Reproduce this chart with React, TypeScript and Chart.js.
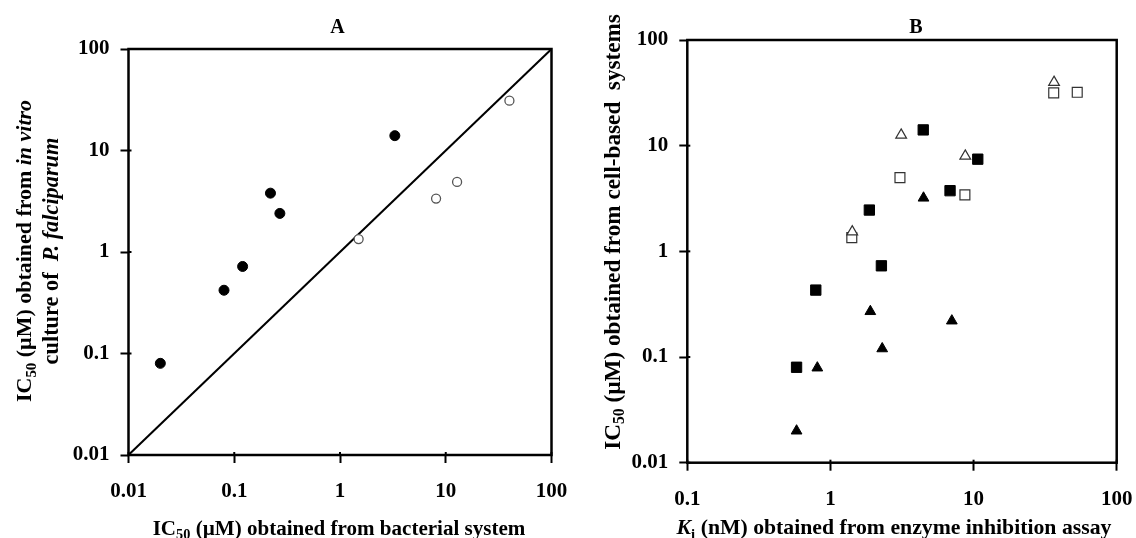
import { useEffect, useRef } from "react";
import { Chart, registerables } from "chart.js";

Chart.register(...registerables);

const FAMILY = '"Liberation Serif", "Times New Roman", Times, serif';

// ---------- Data ----------
const A_X_TICKS = [0.01, 0.1, 1, 10, 100];
const A_Y_TICKS = [0.01, 0.1, 1, 10, 100];
const B_X_TICKS = [0.1, 1, 10, 100];
const B_Y_TICKS = [0.01, 0.1, 1, 10, 100];

// Panel A: IC50 bacterial (x) vs IC50 in vitro P. falciparum (y)
const A_FILLED_X = [0.02, 0.08, 0.12, 0.22, 0.27, 3.3];
const A_FILLED_Y = [0.08, 0.42, 0.72, 3.8, 2.4, 14];
const A_OPEN_X = [1.5, 8.1, 12.8, 40];
const A_OPEN_Y = [1.34, 3.36, 4.9, 31];
const A_DIAG = [0.01, 100];

// Panel B: Ki (x) vs IC50 cell-based (y)
const B_FSQ_X = [0.58, 0.79, 1.87, 2.27, 4.45, 6.85, 10.7];
const B_FSQ_Y = [0.08, 0.43, 2.46, 0.73, 14.1, 3.75, 7.45];
const B_FTRI_X = [0.58, 0.81, 1.9, 2.3, 4.47, 7.05];
const B_FTRI_Y = [0.02, 0.079, 0.27, 0.12, 3.2, 0.22];
const B_OSQ_X = [1.41, 3.06, 8.7, 36.3, 53];
const B_OSQ_Y = [1.35, 4.98, 3.42, 31.6, 32];
const B_OTRI_X = [1.42, 3.12, 8.75, 36.5];
const B_OTRI_Y = [1.53, 12.6, 7.97, 39.8];

const pts = (xs: number[], ys: number[]) => xs.map((x, i) => ({ x, y: ys[i] }));

// ---------- Rich text helpers ----------
type Seg = { t: string; s?: "i" | "sub" };
type Rich = { segs: Seg[]; x: number; y: number; rot?: boolean; width?: number; size?: number };

function drawRich(ctx: CanvasRenderingContext2D, r: Rich) {
  const base = r.size ?? 20;
  const fontFor = (seg: Seg, size: number) =>
    `${seg.s === "i" ? "italic " : ""}bold ${seg.s === "sub" ? size * 0.68 : size}px ${FAMILY}`;
  const measure = (size: number) =>
    r.segs.reduce((acc, seg) => {
      ctx.font = fontFor(seg, size);
      return acc + ctx.measureText(seg.t).width;
    }, 0);
  let size = base;
  if (r.width) size = (base * r.width) / measure(base);
  const total = measure(size);
  ctx.save();
  ctx.translate(r.x, r.y);
  if (r.rot) ctx.rotate(-Math.PI / 2);
  ctx.fillStyle = "#000";
  ctx.textBaseline = "alphabetic";
  ctx.textAlign = "left";
  let x = -total / 2;
  const baseY = size * 0.33;
  for (const seg of r.segs) {
    ctx.font = fontFor(seg, size);
    ctx.fillText(seg.t, x, seg.s === "sub" ? baseY + size * 0.2 : baseY);
    x += ctx.measureText(seg.t).width;
  }
  ctx.restore();
}

function makeFramePlugin(labels: Rich[]) {
  return {
    id: "frameAndTitles",
    afterDraw(chart: any) {
      const { ctx, chartArea: a } = chart;
      ctx.save();
      ctx.strokeStyle = "#000";
      ctx.lineWidth = 2.5;
      ctx.strokeRect(a.left, a.top, a.right - a.left, a.bottom - a.top);
      ctx.lineWidth = 2;
      const xs = chart.scales.x;
      xs.ticks.forEach((t: any) => {
        const px = xs.getPixelForValue(t.value);
        ctx.beginPath();
        ctx.moveTo(px, a.bottom);
        ctx.lineTo(px, a.bottom - 3);
        ctx.stroke();
      });
      const ys = chart.scales.y;
      ys.ticks.forEach((t: any) => {
        const py = ys.getPixelForValue(t.value);
        ctx.beginPath();
        ctx.moveTo(a.left, py);
        ctx.lineTo(a.left + 3, py);
        ctx.stroke();
      });
      labels.forEach((r) => drawRich(ctx, r));
      ctx.restore();
    },
  };
}

function logAxis(min: number, max: number, ticks: number[], size: number, pos: "left" | "bottom") {
  return {
    type: "logarithmic" as const,
    position: pos,
    min,
    max,
    afterBuildTicks: (s: any) => {
      s.ticks = ticks.map((v) => ({ value: v }));
    },
    afterFit: (s: any) => {
      if (pos === "left") s.width = size;
      else s.height = size;
      s.paddingLeft = 0;
      s.paddingRight = 0;
      s.paddingTop = 0;
      s.paddingBottom = 0;
    },
    grid: {
      display: true,
      drawOnChartArea: false,
      drawTicks: true,
      tickLength: 8,
      tickWidth: 2,
      tickColor: "#000",
      color: "#000",
    },
    border: { display: false },
    ticks: {
      color: "#000",
      font: { family: FAMILY, size: 21, weight: "bold" as const },
      padding: pos === "left" ? 11 : 16,
      autoSkip: false,
      maxRotation: 0,
      callback: (v: any) => String(v),
    },
  };
}

function useChart(ref: React.RefObject<HTMLCanvasElement>, build: () => any) {
  useEffect(() => {
    if (!ref.current) return;
    const chart = new Chart(ref.current, build());
    return () => chart.destroy();
  }, []);
}

export default function App() {
  const refA = useRef<HTMLCanvasElement>(null);
  const refB = useRef<HTMLCanvasElement>(null);

  useChart(refA, () => ({
    type: "scatter",
    data: {
      datasets: [
        {
          label: "filled",
          data: pts(A_FILLED_X, A_FILLED_Y),
          pointStyle: "circle",
          pointRadius: 5,
          pointBackgroundColor: "#000",
          pointBorderColor: "#000",
          pointBorderWidth: 1,
        },
        {
          label: "open",
          data: pts(A_OPEN_X, A_OPEN_Y),
          pointStyle: "circle",
          pointRadius: 4.5,
          pointBackgroundColor: "#fff",
          pointBorderColor: "#555",
          pointBorderWidth: 1.3,
        },
        {
          label: "identity",
          data: pts(A_DIAG, A_DIAG),
          showLine: true,
          borderColor: "#000",
          borderWidth: 2,
          pointRadius: 0,
        },
      ],
    },
    options: {
      animation: false,
      responsive: false,
      devicePixelRatio: 1,
      layout: { padding: { top: 49, right: 16.5, left: 0, bottom: 0 } },
      plugins: { legend: { display: false }, tooltip: { enabled: false } },
      scales: {
        x: logAxis(0.01, 100, A_X_TICKS, 83, "bottom"),
        y: logAxis(0.01, 100, A_Y_TICKS, 128.5, "left"),
      },
    },
    plugins: [
      makeFramePlugin([
        { segs: [{ t: "A" }], x: 337.5, y: 26, size: 20 },
        {
          segs: [{ t: "IC" }, { t: "50", s: "sub" }, { t: " (µM) obtained from " }, { t: "in vitro", s: "i" }],
          x: 24,
          y: 251,
          rot: true,
          width: 302,
        },
        {
          segs: [{ t: "culture of  " }, { t: "P. falciparum", s: "i" }],
          x: 51,
          y: 251,
          rot: true,
          width: 227,
        },
        {
          segs: [{ t: "IC" }, { t: "50", s: "sub" }, { t: " (µM) obtained from bacterial system" }],
          x: 339,
          y: 528,
          width: 373,
        },
      ]),
    ],
  }));

  useChart(refB, () => ({
    type: "scatter",
    data: {
      datasets: [
        {
          label: "filled squares",
          data: pts(B_FSQ_X, B_FSQ_Y),
          pointStyle: "rect",
          pointRadius: 7.3,
          pointBackgroundColor: "#000",
          pointBorderColor: "#000",
          pointBorderWidth: 1,
        },
        {
          label: "filled triangles",
          data: pts(B_FTRI_X, B_FTRI_Y),
          pointStyle: "triangle",
          pointRadius: 6.2,
          pointBackgroundColor: "#000",
          pointBorderColor: "#000",
          pointBorderWidth: 1,
        },
        {
          label: "open triangles",
          data: pts(B_OTRI_X, B_OTRI_Y),
          pointStyle: "triangle",
          pointRadius: 6.2,
          pointBackgroundColor: "#fff",
          pointBorderColor: "#333",
          pointBorderWidth: 1.2,
        },
        {
          label: "open squares",
          data: pts(B_OSQ_X, B_OSQ_Y),
          pointStyle: "rect",
          pointRadius: 7,
          pointBackgroundColor: "#fff",
          pointBorderColor: "#333",
          pointBorderWidth: 1.2,
        },
      ],
    },
    options: {
      animation: false,
      responsive: false,
      devicePixelRatio: 1,
      layout: { padding: { top: 40, right: 19.3, left: 0, bottom: 0 } },
      plugins: { legend: { display: false }, tooltip: { enabled: false } },
      scales: {
        x: logAxis(0.1, 100, B_X_TICKS, 75.3, "bottom"),
        y: logAxis(0.01, 100, B_Y_TICKS, 119.3, "left"),
      },
    },
    plugins: [
      makeFramePlugin([
        { segs: [{ t: "B" }], x: 348, y: 26, size: 20 },
        {
          segs: [{ t: "IC" }, { t: "50", s: "sub" }, { t: " (µM) obtained from cell-based  systems" }],
          x: 44,
          y: 232,
          rot: true,
          width: 436,
        },
        {
          segs: [{ t: "K", s: "i" }, { t: "i", s: "sub" }, { t: " (nM) obtained from enzyme inhibition assay" }],
          x: 326,
          y: 527,
          width: 435,
        },
      ]),
    ],
  }));

  return (
    <div style={{ position: "absolute", left: 0, top: 0, width: 1136, height: 538, background: "#fff" }}>
      <canvas ref={refA} width={568} height={538} style={{ position: "absolute", left: 0, top: 0, display: "block" }} />
      <canvas ref={refB} width={568} height={538} style={{ position: "absolute", left: 568, top: 0, display: "block" }} />
    </div>
  );
}
